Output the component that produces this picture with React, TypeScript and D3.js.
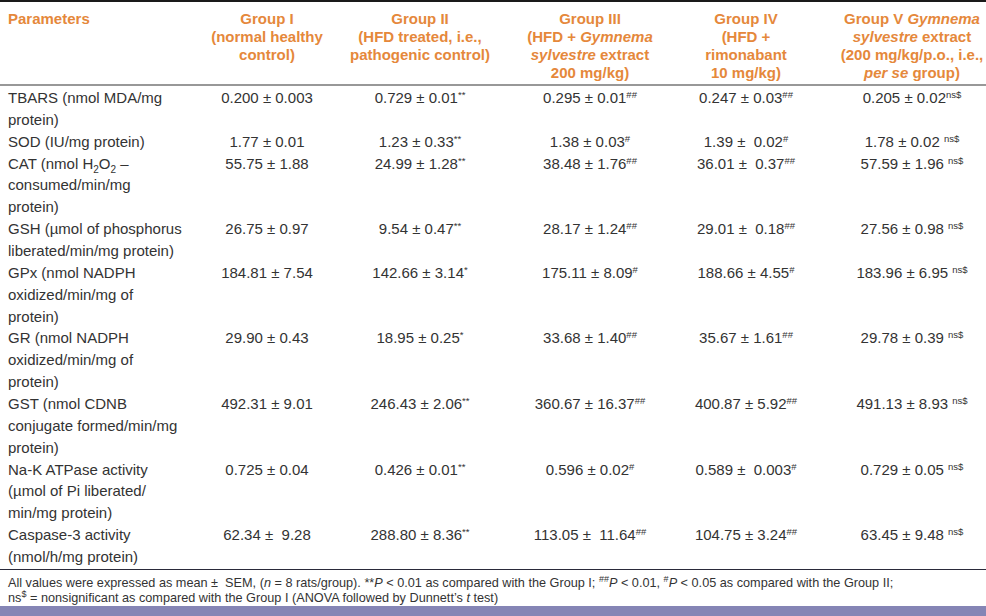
import React from "react";
import * as d3 from "d3";

type Seg = { t: string; s?: "sub" | "sup"; i?: boolean };

// ---------- DATA ----------
const groups = ["Group I", "Group II", "Group III", "Group IV", "Group V"];

const headerLines: Seg[][][] = [
  [[{ t: "Group I" }], [{ t: "(normal healthy" }], [{ t: "control)" }]],
  [[{ t: "Group II" }], [{ t: "(HFD treated, i.e.," }], [{ t: "pathogenic control)" }]],
  [
    [{ t: "Group III" }],
    [{ t: "(HFD + " }, { t: "Gymnema", i: true }],
    [{ t: "sylvestre", i: true }, { t: " extract" }],
    [{ t: "200 mg/kg)" }],
  ],
  [[{ t: "Group IV" }], [{ t: "(HFD +" }], [{ t: "rimonabant" }], [{ t: "10 mg/kg)" }]],
  [
    [{ t: "Group V " }, { t: "Gymnema", i: true }],
    [{ t: "sylvestre", i: true }, { t: " extract" }],
    [{ t: "(200 mg/kg/p.o., i.e.," }],
    [{ t: "per se", i: true }, { t: " group)" }],
  ],
];

const parameterLabels: Seg[][][] = [
  [[{ t: "TBARS (nmol MDA/mg" }], [{ t: "protein)" }]],
  [[{ t: "SOD (IU/mg protein)" }]],
  [
    [{ t: "CAT (nmol H" }, { t: "2", s: "sub" }, { t: "O" }, { t: "2", s: "sub" }, { t: " –" }],
    [{ t: "consumed/min/mg" }],
    [{ t: "protein)" }],
  ],
  [[{ t: "GSH (µmol of phosphorus" }], [{ t: "liberated/min/mg protein)" }]],
  [[{ t: "GPx (nmol NADPH" }], [{ t: "oxidized/min/mg of" }], [{ t: "protein)" }]],
  [[{ t: "GR (nmol NADPH" }], [{ t: "oxidized/min/mg of" }], [{ t: "protein)" }]],
  [[{ t: "GST (nmol CDNB" }], [{ t: "conjugate formed/min/mg" }], [{ t: "protein)" }]],
  [[{ t: "Na-K ATPase activity" }], [{ t: "(µmol of Pi liberated/" }], [{ t: "min/mg protein)" }]],
  [[{ t: "Caspase-3 activity" }], [{ t: "(nmol/h/mg protein)" }]],
];

const groupI = ["0.200 ± 0.003", "1.77 ± 0.01", "55.75 ± 1.88", "26.75 ± 0.97", "184.81 ± 7.54", "29.90 ± 0.43", "492.31 ± 9.01", "0.725 ± 0.04", "62.34 ±  9.28"];
const groupISig = ["", "", "", "", "", "", "", "", ""];
const groupII = ["0.729 ± 0.01", "1.23 ± 0.33", "24.99 ± 1.28", "9.54 ± 0.47", "142.66 ± 3.14", "18.95 ± 0.25", "246.43 ± 2.06", "0.426 ± 0.01", "288.80 ± 8.36"];
const groupIISig = ["**", "**", "**", "**", "*", "*", "**", "**", "**"];
const groupIII = ["0.295 ± 0.01", "1.38 ± 0.03", "38.48 ± 1.76", "28.17 ± 1.24", "175.11 ± 8.09", "33.68 ± 1.40", "360.67 ± 16.37", "0.596 ± 0.02", "113.05 ±  11.64"];
const groupIIISig = ["##", "#", "##", "##", "#", "##", "##", "#", "##"];
const groupIV = ["0.247 ± 0.03", "1.39 ±  0.02", "36.01 ±  0.37", "29.01 ±  0.18", "188.66 ± 4.55", "35.67 ± 1.61", "400.87 ± 5.92", "0.589 ±  0.003", "104.75 ± 3.24"];
const groupIVSig = ["##", "#", "##", "##", "#", "##", "##", "#", "##"];
const groupV = ["0.205 ± 0.02", "1.78 ± 0.02 ", "57.59 ± 1.96 ", "27.56 ± 0.98 ", "183.96 ± 6.95 ", "29.78 ± 0.39 ", "491.13 ± 8.93 ", "0.729 ± 0.05 ", "63.45 ± 9.48 "];
const groupVSig = ["ns$", "ns$", "ns$", "ns$", "ns$", "ns$", "ns$", "ns$", "ns$"];

const footnoteLines: Seg[][] = [
  [
    { t: "All values were expressed as mean ±  SEM, (" },
    { t: "n", i: true },
    { t: " = 8 rats/group). **" },
    { t: "P", i: true },
    { t: " < 0.01 as compared with the Group I; " },
    { t: "##", s: "sup" },
    { t: "P", i: true },
    { t: " < 0.01, " },
    { t: "#", s: "sup" },
    { t: "P", i: true },
    { t: " < 0.05 as compared with the Group II;" },
  ],
  [
    { t: "ns" },
    { t: "$", s: "sup" },
    { t: " = nonsignificant as compared with the Group I (ANOVA followed by Dunnett’s " },
    { t: "t", i: true },
    { t: " test)" },
  ],
];

// ---------- LAYOUT ----------
const W = 986;
const H = 616;
const FONT = "'Liberation Sans', Arial, Helvetica, sans-serif";
const ORANGE = "#E5883B";
const TEXT = "#333333";
const columnCenters = [267, 420, 590, 746, 912];
const values = [groupI, groupII, groupIII, groupIV, groupV];
const sigs = [groupISig, groupIISig, groupIIISig, groupIVSig, groupVSig];

function renderSegs(segs: Seg[], supSize: number) {
  const out: React.ReactNode[] = [];
  let shift = 0;
  segs.forEach((s, k) => {
    const target = s.s === "sub" ? 4 : s.s === "sup" ? -5 : 0;
    const dy = target - shift;
    shift = target;
    out.push(
      <tspan
        key={k}
        dy={dy !== 0 ? dy : undefined}
        fontStyle={s.i ? "italic" : undefined}
        fontSize={s.s ? supSize : undefined}
      >
        {s.t}
      </tspan>
    );
  });
  return out;
}

export default function App() {
  const col = d3.scaleOrdinal<string, number>().domain(groups).range(columnCenters);

  // body line positions
  const bodyLine = d3.scaleLinear().domain([0, 21]).range([103, 562]);
  const headLine = d3.scaleLinear().domain([0, 3]).range([23.5, 77.5]);

  const rowStart: number[] = [];
  let acc = 0;
  parameterLabels.forEach((p) => {
    rowStart.push(acc);
    acc += p.length;
  });

  return (
    <svg width={W} height={H} style={{ position: "absolute", left: 0, top: 0, background: "#fff" }} fontFamily={FONT}>
      <rect x={0} y={0} width={W} height={H} fill="#fff" />
      {/* rules */}
      <line x1={0} x2={W} y1={1} y2={1} stroke="#1a1a1a" strokeWidth={2} />
      <line x1={0} x2={W} y1={85} y2={85} stroke="#333" strokeWidth={1.2} />
      <line x1={0} x2={W} y1={569.5} y2={569.5} stroke="#2a2a3a" strokeWidth={1.2} />
      <rect x={0} y={606} width={W} height={H - 606} fill="#8585B5" />

      {/* header */}
      <text x={8} y={headLine(0)} fill={ORANGE} fontWeight="bold" fontSize={15}>
        Parameters
      </text>
      {headerLines.map((lines, gi) =>
        lines.map((segs, li) => (
          <text
            key={`h${gi}-${li}`}
            x={col(groups[gi])}
            y={headLine(li)}
            textAnchor="middle"
            fill={ORANGE}
            fontWeight="bold"
            fontSize={15}
          >
            {renderSegs(segs, 10)}
          </text>
        ))
      )}

      {/* parameter labels */}
      {parameterLabels.map((lines, pi) =>
        lines.map((segs, li) => (
          <text
            key={`p${pi}-${li}`}
            x={8}
            y={bodyLine(rowStart[pi] + li)}
            fill={TEXT}
            fontSize={15}
            style={{ whiteSpace: "pre" }}
          >
            {renderSegs(segs, 10)}
          </text>
        ))
      )}

      {/* values */}
      {values.map((vals, gi) =>
        vals.map((v, ri) => (
          <text
            key={`v${gi}-${ri}`}
            x={col(groups[gi])}
            y={bodyLine(rowStart[ri])}
            textAnchor="middle"
            fill={TEXT}
            fontSize={15}
            style={{ whiteSpace: "pre" }}
          >
            {renderSegs(
              sigs[gi][ri] ? [{ t: v }, { t: sigs[gi][ri], s: "sup" }] : [{ t: v }],
              9.5
            )}
          </text>
        ))
      )}

      {/* footnote */}
      {footnoteLines.map((segs, li) => (
        <text key={`f${li}`} x={8} y={587 + li * 15} fill={TEXT} fontSize={12.7} style={{ whiteSpace: "pre" }}>
          {renderSegs(segs, 9)}
        </text>
      ))}
    </svg>
  );
}
